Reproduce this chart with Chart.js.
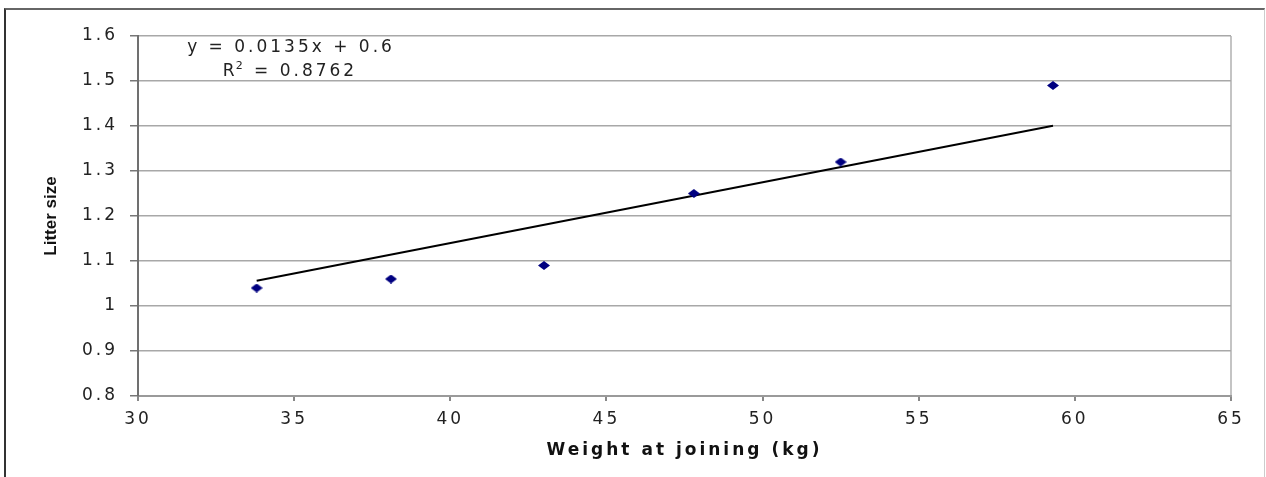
<!DOCTYPE html>
<html>
<head>
<meta charset="utf-8">
<script src="https://cdn.jsdelivr.net/npm/chart.js@4"></script>
<style>
  html, body { margin: 0; padding: 0; background: #fff; }
  #wrap { position: relative; width: 1266px; height: 477px; overflow: hidden; }
  #frame {
    position: absolute; left: 4px; top: 8px; width: 1258px; height: 480px;
    border-left: 2px solid #333; border-top: 2px solid #666; border-right: 1px solid #ccc;
    pointer-events: none;
  }
</style>
</head>
<body>
<div id="wrap">
  <canvas id="litter-chart" width="1266" height="477"></canvas>
  <div id="frame"></div>
</div>
<script>
// values
const weights = [33.8, 38.1, 43.0, 47.8, 52.5, 59.3];
const litterSize = [1.04, 1.06, 1.09, 1.25, 1.32, 1.49];
const xTicks = [30, 35, 40, 45, 50, 55, 60, 65];
const yTicks = [0.8, 0.9, 1.0, 1.1, 1.2, 1.3, 1.4, 1.5, 1.6];
const slope = 0.0135;
const intercept = 0.6;
const rSquared = '0.8762';

const xTitle = 'Weight at joining (kg)';
const yTitle = 'Litter size';

// trendline between the lowest and highest weight
const xMin = Math.min(...weights);
const xMax = Math.max(...weights);
const trend = [
  { x: xMin, y: slope * xMin + intercept },
  { x: xMax, y: slope * xMax + intercept }
];

/* flat navy diamond like the excel marker */
function diamond(w, h, color) {
  const c = document.createElement('canvas');
  c.width = w; c.height = h;
  const g = c.getContext('2d');
  g.fillStyle = color;
  g.beginPath();
  g.moveTo(w / 2, 0); g.lineTo(w, h / 2); g.lineTo(w / 2, h); g.lineTo(0, h / 2);
  g.closePath();
  g.fill();
  return c;
}

const textLook = {
  id: 'textLook',
  beforeDraw(chart) {
    chart.ctx.letterSpacing = '3px';
  },
  afterDraw(chart) {
    const ctx = chart.ctx;
    const area = chart.chartArea;

    // equation label
    ctx.save();
    ctx.fillStyle = '#222';
    ctx.font = '17px "DejaVu Sans"';
    ctx.textBaseline = 'middle';
    ctx.textAlign = 'center';
    const cx = area.left + 153;
    ctx.fillText('y = ' + slope + 'x + ' + intercept, cx, area.top + 12);

    const a = 'R', b = '2', c = ' = ' + rSquared;
    ctx.textAlign = 'left';
    const wa = ctx.measureText(a).width;
    const wc = ctx.measureText(c).width;
    ctx.font = '11px "DejaVu Sans"';
    const wb = ctx.measureText(b).width;
    let x0 = cx - (wa + wb + wc) / 2;
    ctx.font = '17px "DejaVu Sans"';
    ctx.fillText(a, x0, area.top + 36);
    ctx.font = '11px "DejaVu Sans"';
    ctx.fillText(b, x0 + wa - 2, area.top + 30);
    ctx.font = '17px "DejaVu Sans"';
    ctx.fillText(c, x0 + wa + wb - 2, area.top + 36);
    ctx.restore();

    // y axis title
    ctx.save();
    ctx.letterSpacing = '0px';
    ctx.fillStyle = '#111';
    ctx.font = 'bold 17px "Liberation Sans"';
    ctx.textAlign = 'center';
    ctx.textBaseline = 'middle';
    ctx.translate(51, (area.top + area.bottom) / 2);
    ctx.rotate(-Math.PI / 2);
    ctx.fillText(yTitle, 0, 0);
    ctx.restore();
  }
};

Chart.defaults.font.family = '"DejaVu Sans"';
Chart.defaults.font.size = 17;
Chart.defaults.color = '#222';

new Chart(document.getElementById('litter-chart'), {
  type: 'scatter',
  data: {
    datasets: [
      {
        label: 'Litter size',
        data: weights.map((w, i) => ({ x: w, y: litterSize[i] })),
        pointStyle: diamond(12, 9, '#000080'),
        pointRadius: 6,
        order: 1
      },
      {
        label: 'Linear trend',
        type: 'line',
        data: trend,
        borderColor: '#000',
        borderWidth: 2,
        pointRadius: 0,
        fill: false,
        order: 2
      }
    ]
  },
  options: {
    responsive: false,
    animation: false,
    devicePixelRatio: 1,
    layout: { padding: { left: 0, right: 35, top: 36, bottom: 0 } },
    plugins: {
      legend: { display: false },
      tooltip: { enabled: false }
    },
    scales: {
      x: {
        type: 'linear',
        min: 30,
        max: 65,
        afterBuildTicks: (scale) => { scale.ticks = xTicks.map(v => ({ value: v })); },
        afterFit: (scale) => {
          scale.height = 81;
          scale.paddingLeft = 0;
          scale.paddingRight = 0;
        },
        ticks: { padding: 8, color: '#222', maxRotation: 0, autoSkip: false },
        grid: {
          drawOnChartArea: true,
          color: (c) => (c.tick && c.tick.value === 65 ? '#c4c4c4' : 'rgba(0,0,0,0)'),
          lineWidth: 2,
          tickColor: '#888',
          tickLength: 5
        },
        border: { display: true, color: '#9a9a9a', width: 2 },
        title: {
          display: true,
          text: xTitle,
          color: '#111',
          font: { weight: 'bold', size: 17 },
          padding: { top: 0, bottom: 16 }
        }
      },
      y: {
        type: 'linear',
        min: 0.8,
        max: 1.6,
        afterBuildTicks: (scale) => { scale.ticks = yTicks.map(v => ({ value: v })); },
        afterFit: (scale) => {
          scale.width = 138;
          scale.paddingTop = 0;
          scale.paddingBottom = 0;
        },
        ticks: {
          padding: 12,
          color: '#222',
          callback: (v) => String(Number(v.toFixed(1)))
        },
        grid: {
          color: '#a8a8a8',
          lineWidth: 1.5,
          tickColor: '#777',
          tickLength: 8
        },
        border: { display: true, color: '#707070', width: 2 }
      }
    }
  },
  plugins: [textLook]
});
</script>
</body>
</html>
